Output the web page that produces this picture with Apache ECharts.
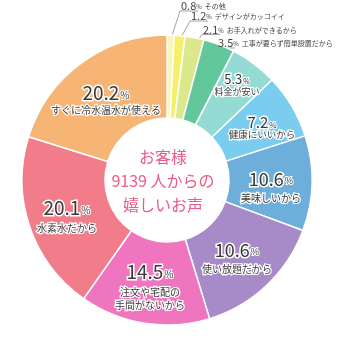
<!DOCTYPE html>
<html>
<head>
<meta charset="utf-8">
<script src="https://cdn.jsdelivr.net/npm/echarts@6/dist/echarts.min.js"></script>
<style>
html, body { margin: 0; padding: 0; background: #fff; }
#chart { width: 337px; height: 345px; }
</style>
</head>
<body>
<div id="chart"></div>
<script>
// reasons, clockwise from 12 o'clock
const reasons = ['その他', 'デザインがカッコイイ', 'お手入れができるから', '工事が要らず簡単設置だから',
  '料金が安い', '健康にいいから', '美味しいから', '使い放題だから',
  '注文や宅配の\n手間がないから', '水素水だから', 'すぐに冷水温水が使える'];
// percentages printed on the chart
const pctText = ['0.8', '1.2', '2.1', '3.5', '5.3', '7.2', '10.6', '10.6', '14.5', '20.1', '20.2'];
// slice sizes as drawn (the purple slice is drawn ~14.6 wide although it reads 10.6)
const shares = [0.8, 1.2, 2.1, 3.5, 5.3, 7.2, 10.6, 14.6, 14.5, 20.1, 20.2];
const colors = ['#faf5bb', '#f5ef6c', '#dbe88c', '#63c79c', '#93dbd3', '#7bcdef',
  '#6daedb', '#a78bc9', '#ef75bf', '#f07d89', '#f6b575'];
const centerLines = ['お客様', '9139 人からの', '嬉しいお声'];

// layout (px)
const cx = 167, cy = 180, r0 = 62, r1 = 145;
const inLabel = {
  4: { x: 237, y: 84, n: 13, nl: 15, t: 9, tl: 10 },
  5: { x: 262, y: 127, n: 15, nl: 15, t: 9.5, tl: 9 },
  6: { x: 271, y: 185, n: 18, nl: 26, t: 10, tl: 12 },
  7: { x: 237, y: 256, n: 18, nl: 27, t: 10, tl: 12 },
  8: { x: 150, y: 285, n: 19, nl: 28, t: 10, tl: 13 },
  9: { x: 67, y: 214, n: 19, nl: 29, t: 10, tl: 12 },
  10: { x: 106, y: 99, n: 19, nl: 22, t: 10, tl: 12 }
};
const outLabel = {
  0: { x: 181, y: 6, r: 140 },
  1: { x: 191, y: 16, r: 140 },
  2: { x: 203, y: 29.5, r: 135 },
  3: { x: 218, y: 43, r: 125 }
};

const font = '"Noto Sans CJK JP", "Noto Sans", sans-serif';
const ink = '#3a3a3a';

const data = shares.map(function (v, i) {
  const item = { value: v, name: reasons[i], itemStyle: { color: colors[i] } };
  if (inLabel[i]) {
    const s = inLabel[i];
    item.label = {
      position: 'inside',
      formatter: '{n|' + pctText[i] + '}{u|%}\n{t|' + reasons[i].split('\n').join('}\n{t|') + '}',
      rich: {
        n: { fontSize: s.n, lineHeight: s.nl, color: ink, fontFamily: font, textBorderColor: '#fff', textBorderWidth: 3 },
        u: { fontSize: Math.round(s.n * 0.5), lineHeight: s.nl, color: ink, fontFamily: font, padding: [4, 0, 0, 1], textBorderColor: '#fff', textBorderWidth: 2 },
        t: { fontSize: s.t, lineHeight: s.tl, color: ink, fontFamily: font, textBorderColor: '#fff', textBorderWidth: 2.5 }
      }
    };
    item.labelLine = { show: false };
  } else {
    item.label = {
      position: 'outside',
      formatter: '{n|' + pctText[i] + '}{u|%}{t|' + reasons[i] + '}',
      rich: {
        n: { fontSize: 11, color: '#444', fontFamily: font },
        u: { fontSize: 6, color: '#444', fontFamily: font, padding: [2, 0, 0, 0] },
        t: { fontSize: 7, color: '#444', fontFamily: font, padding: [1, 0, 0, 3] }
      }
    };
    item.labelLine = { show: true, lineStyle: { color: '#8a8a8a', width: 0.8 } };
  }
  return item;
});

const chart = echarts.init(document.getElementById('chart'));
chart.setOption({
  animation: false,
  series: [{
    type: 'pie',
    center: [cx, cy],
    radius: [r0, r1],
    startAngle: 90,
    clockwise: true,
    avoidLabelOverlap: false,
    silent: true,
    itemStyle: { borderColor: '#fff', borderWidth: 1.5 },
    data: data,
    labelLayout: function (p) {
      const i = p.dataIndex;
      if (inLabel[i]) {
        return { x: inLabel[i].x, y: inLabel[i].y, align: 'center', verticalAlign: 'middle' };
      }
      const o = outLabel[i];
      const e = p.labelLinePoints ? p.labelLinePoints[0] : [cx, cy - r1];
      const k = o.r / r1;
      const start = [cx + (e[0] - cx) * k, cy + (e[1] - cy) * k];
      return {
        x: o.x, y: o.y, align: 'left', verticalAlign: 'middle',
        labelLinePoints: [start, [o.x - 1, o.y + 5], [o.x + 17, o.y + 5]]
      };
    }
  }],
  graphic: [{
    type: 'text',
    x: 163,
    y: 181,
    style: {
      text: centerLines.join('\n'),
      font: '16px ' + font,
      lineHeight: 24,
      fill: '#e85d84',
      align: 'center',
      verticalAlign: 'middle'
    }
  }]
});
</script>
</body>
</html>
